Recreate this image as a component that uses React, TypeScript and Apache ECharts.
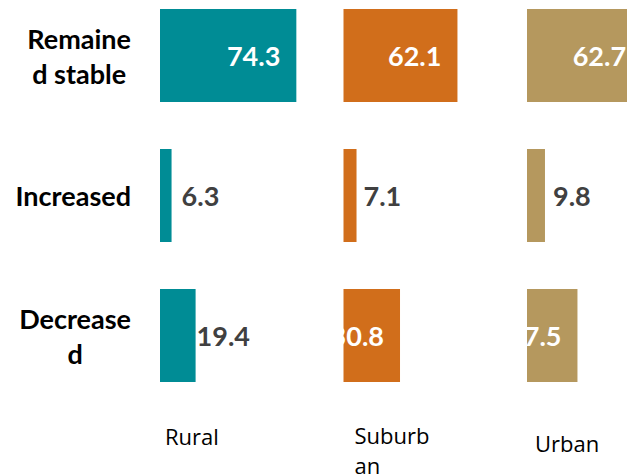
import React, { useEffect, useRef } from "react";
import * as echarts from "echarts";

const categories = ["Remaine\nd stable", "Increased", "Decrease\nd"];
const panels = ["Rural", "Suburb\nan", "Urban"];
const rural = [74.3, 6.3, 19.4];
const suburban = [62.1, 7.1, 30.8];
const urban = [62.7, 9.8, 27.5];

const seriesValues = [rural, suburban, urban];
const colors = ["#008C95", "#D16E1B", "#B5985E"];

// layout
const GRID_LEFT0 = 160;
const GRID_W = 183.5;
const GRID_TOP = -14.5;
const GRID_H = 420;
const panelLabelPos = [
  { dx: 5, y: 420.5 },
  { dx: 11, y: 419.5 },
  { dx: 8, y: 427.5 },
];

const BOLD = { fontFamily: "Lato", fontWeight: "bold" as const, fontSize: 27 };
const GRAY = "#404040";

function labelFor(panel: number, idx: number) {
  if (idx === 1) {
    const d = [10, 7, 8][panel];
    return { show: true, position: "right", distance: d, color: GRAY, ...BOLD };
  }
  if (idx === 2 && panel === 0) {
    return { show: true, position: "right", distance: 1, color: GRAY, ...BOLD };
  }
  return { show: true, position: "insideRight", distance: 16, color: "#ffffff", ...BOLD };
}

export default function App() {
  const ref = useRef<HTMLDivElement>(null);
  useEffect(() => {
    if (!ref.current) return;
    const chart = echarts.init(ref.current, undefined, { renderer: "svg" });
    const grids = seriesValues.map((_, i) => ({
      left: GRID_LEFT0 + i * GRID_W,
      top: GRID_TOP,
      width: GRID_W,
      height: GRID_H,
      containLabel: false,
      outerBoundsMode: "none",
    }));
    const xAxes = seriesValues.map((_, i) => ({
      type: "value",
      gridIndex: i,
      min: 0,
      max: 100,
      show: false,
    }));
    const yAxes = seriesValues.map((_, i) => ({
      type: "category",
      gridIndex: i,
      data: categories,
      inverse: true,
      axisLine: { show: false },
      axisTick: { show: false },
      splitLine: { show: false },
      axisLabel: {
        show: i === 0,
        align: "right",
        margin: 29,
        formatter: (v: string) =>
          v
            .split("\n")
            .map((l) => `{c|${l}}`)
            .join("\n"),
        rich: {
          c: {
            align: "center",
            color: "#000000",
            lineHeight: 35,
            ...BOLD,
          },
        },
      },
    }));
    const series = seriesValues.map((vals, i) => ({
      type: "bar",
      xAxisIndex: i,
      yAxisIndex: i,
      barWidth: 93,
      itemStyle: { color: colors[i] },
      data: vals.map((v, j) => ({ value: v, label: labelFor(i, j) })),
    }));
    const graphic = panels.map((p, i) => ({
      type: "text",
      left: GRID_LEFT0 + i * GRID_W + panelLabelPos[i].dx,
      top: panelLabelPos[i].y,
      style: {
        text: p,
        fontFamily: "Open Sans",
        fontSize: 22,
        lineHeight: 30,
        fill: "#000000",
      },
    }));
    chart.setOption({
      animation: false,
      backgroundColor: "#ffffff",
      grid: grids,
      xAxis: xAxes,
      yAxis: yAxes,
      series,
      graphic,
    });
    return () => chart.dispose();
  }, []);
  return (
    <div
      ref={ref}
      style={{ position: "absolute", left: 0, top: 0, width: 627, height: 475 }}
    />
  );
}
